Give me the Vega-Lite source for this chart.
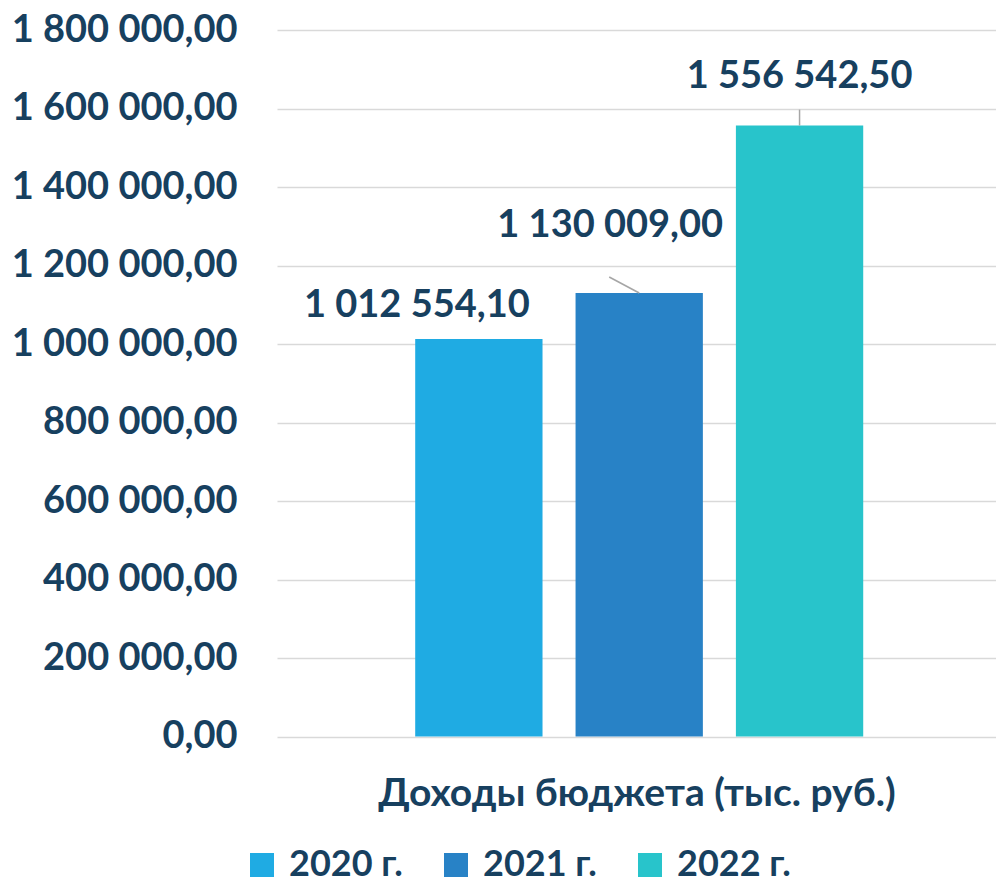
{
  "$schema": "https://vega.github.io/schema/vega-lite/v6.json",
  "width": 719,
  "height": 706.5,
  "autosize": {"type": "none"},
  "padding": {"left": 277, "top": 30, "right": 0, "bottom": 146.5},
  "background": "white",
  "config": {
    "locale": {"number": {"decimal": ",", "thousands": " ", "grouping": [3], "currency": ["", ""]}},
    "view": {"stroke": null},
    "font": "Lato"
  },
  "data": {
    "values": [
      {"category": "Доходы бюджета (тыс. руб.)", "year": "2020 г.", "value": 1012554.10},
      {"category": "Доходы бюджета (тыс. руб.)", "year": "2021 г.", "value": 1130009.00},
      {"category": "Доходы бюджета (тыс. руб.)", "year": "2022 г.", "value": 1556542.50}
    ]
  },
  "encoding": {
    "x": {
      "field": "year",
      "type": "nominal",
      "scale": {"paddingInner": 0.206, "paddingOuter": 0.845, "align": 0.51},
      "axis": {
        "labels": false,
        "ticks": false,
        "domain": false,
        "title": "Доходы бюджета (тыс. руб.)",
        "titleFont": "Lato",
        "titleFontSize": 39,
        "titleFontWeight": "bold",
        "titleColor": "#17405F",
        "titlePadding": 38
      }
    },
    "y": {
      "field": "value",
      "type": "quantitative",
      "scale": {"domain": [0, 1800000], "nice": false},
      "axis": {
        "values": [0, 200000, 400000, 600000, 800000, 1000000, 1200000, 1400000, 1600000, 1800000],
        "format": ",.2f",
        "title": null,
        "domain": false,
        "ticks": false,
        "labelPadding": 40,
        "labelLimit": 0,
        "labelFont": "Lato",
        "labelFontSize": 38,
        "labelFontWeight": "bold",
        "labelColor": "#17405F",
        "gridColor": "#D9D9D9",
        "gridWidth": 1.5
      }
    }
  },
  "layer": [
    {
      "mark": {"type": "bar"},
      "encoding": {
        "color": {
          "field": "year",
          "type": "nominal",
          "scale": {"range": ["#1FABE3", "#2882C6", "#28C4CB"]},
          "legend": {
            "title": null,
            "orient": "none",
            "direction": "horizontal",
            "legendX": -33,
            "legendY": 817,
            "symbolType": "square",
            "symbolSize": 576,
            "symbolStrokeWidth": 0,
            "labelFont": "Lato",
            "labelFontSize": 36,
            "labelFontWeight": "bold",
            "labelColor": "#17405F",
            "labelOffset": 9,
            "columnPadding": 35
          }
        }
      }
    },
    {
      "transform": [{"filter": "datum.year !== '2020 г.'"}],
      "mark": {
        "type": "rule",
        "color": "#A6A6A6",
        "strokeWidth": 1.5,
        "x2Offset": {"expr": "datum.year === '2021 г.' ? -30 : 0"},
        "y2Offset": -16
      },
      "encoding": {
        "x": {"field": "year", "type": "nominal", "bandPosition": 0.5},
        "x2": {"field": "year", "bandPosition": 0.5},
        "y2": {"field": "value"}
      }
    },
    {
      "mark": {
        "type": "text",
        "font": "Lato",
        "fontSize": 38,
        "fontWeight": "bold",
        "color": "#17405F",
        "align": "center",
        "baseline": "alphabetic",
        "dx": {"expr": "datum.year === '2020 г.' ? -62 : (datum.year === '2021 г.' ? -29 : 0)"},
        "dy": {"expr": "datum.year === '2020 г.' ? -22 : (datum.year === '2021 г.' ? -56 : -38)"}
      },
      "encoding": {
        "text": {"field": "value", "type": "quantitative", "format": ",.2f"}
      }
    }
  ]
}
